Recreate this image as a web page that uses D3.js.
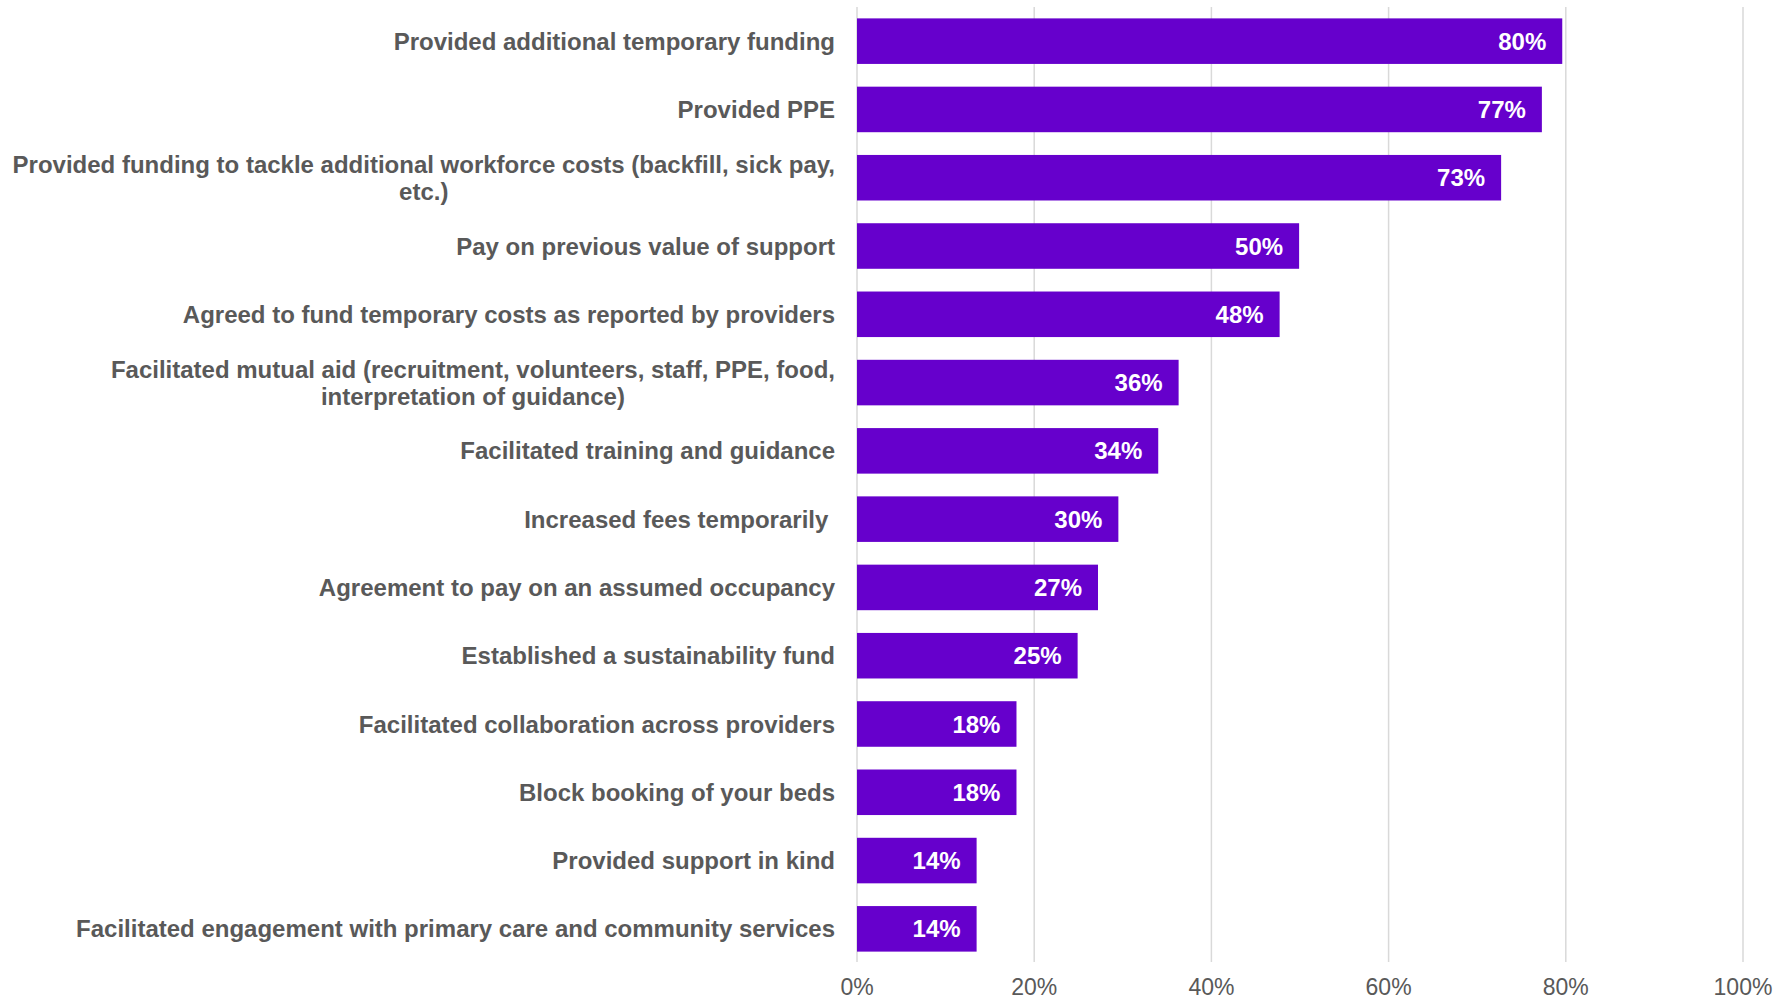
<!DOCTYPE html>
<html>
<head>
<meta charset="utf-8">
<script src="https://cdn.jsdelivr.net/npm/d3@7"></script>
<style>
  body { margin: 0; background: #fff; }
  svg { display: block; }
  text { font-family: Arial, "Liberation Sans", sans-serif; }
</style>
</head>
<body>
<div class="chart"></div>
<script>
// Data
const categories = [
    ['Provided additional temporary funding'],
    ['Provided PPE'],
    ['Provided funding to tackle additional workforce costs (backfill, sick pay,', 'etc.)'],
    ['Pay on previous value of support'],
    ['Agreed to fund temporary costs as reported by providers'],
    ['Facilitated mutual aid (recruitment, volunteers, staff, PPE, food,', 'interpretation of guidance)'],
    ['Facilitated training and guidance'],
    ['Increased fees temporarily '],
    ['Agreement to pay on an assumed occupancy'],
    ['Established a sustainability fund'],
    ['Facilitated collaboration across providers'],
    ['Block booking of your beds'],
    ['Provided support in kind'],
    ['Facilitated engagement with primary care and community services']
];
const values = [0.796, 0.773, 0.727, 0.499, 0.477, 0.363, 0.340, 0.295, 0.272, 0.249, 0.180, 0.180, 0.135, 0.135];
const valueLabels = ['80%', '77%', '73%', '50%', '48%', '36%', '34%', '30%', '27%', '25%', '18%', '18%', '14%', '14%'];
const tickValues = [0, 0.2, 0.4, 0.6, 0.8, 1.0];

function buildChart() {
    const width = 1791;
    const height = 1002;

    const x = d3.scaleLinear()
        .domain([0, 1])
        .range([857, 1743]);

    const y = d3.scaleBand()
        .domain(d3.range(categories.length))
        .range([7, 963])
        .paddingInner(0.333)
        .paddingOuter(0.1667);

    const svg = d3.select('.chart')
        .append('svg')
        .attr('width', width)
        .attr('height', height);

    // Gridlines
    svg.append('g')
        .selectAll('line')
        .data(tickValues)
        .join('line')
        .attr('x1', d => x(d))
        .attr('x2', d => x(d))
        .attr('y1', 7)
        .attr('y2', 962)
        .attr('stroke', '#d9d9d9')
        .attr('stroke-width', 1.5);

    // Bars
    svg.append('g')
        .selectAll('rect')
        .data(values)
        .join('rect')
        .attr('x', x(0))
        .attr('y', (d, i) => y(i))
        .attr('width', d => x(d) - x(0))
        .attr('height', y.bandwidth())
        .attr('fill', '#6600cc');

    // Value labels
    svg.append('g')
        .selectAll('text')
        .data(values)
        .join('text')
        .attr('x', d => x(d) - 16)
        .attr('y', (d, i) => y(i) + y.bandwidth() / 2)
        .attr('dy', '0.36em')
        .attr('text-anchor', 'end')
        .attr('fill', '#fff')
        .attr('font-weight', 'bold')
        .attr('font-size', 24)
        .text((d, i) => valueLabels[i]);

    // Category labels (multi-line blocks centred, block right-aligned)
    const labelRight = x(0) - 22;
    const lineGap = 27;
    const label = svg.append('g')
        .selectAll('g')
        .data(categories)
        .join('g');

    label.each(function (lines, i) {
        const g = d3.select(this);
        const cy = y(i) + y.bandwidth() / 2;
        const texts = g.selectAll('text')
            .data(lines)
            .join('text')
            .style('white-space', 'pre')
            .attr('font-weight', 'bold')
            .attr('font-size', 24)
            .attr('fill', '#595959')
            .attr('dy', '0.36em')
            .attr('y', (d, j) => cy + (j - (lines.length - 1) / 2) * lineGap)
            .text(d => d);
        if (lines.length === 1) {
            texts.attr('text-anchor', 'end').attr('x', labelRight);
        } else {
            const maxW = d3.max(texts.nodes(), n => n.getComputedTextLength());
            texts.attr('text-anchor', 'middle').attr('x', labelRight - maxW / 2);
        }
    });

    // Tick labels
    svg.append('g')
        .selectAll('text')
        .data(tickValues)
        .join('text')
        .attr('x', d => x(d))
        .attr('y', 995)
        .attr('text-anchor', 'middle')
        .attr('fill', '#595959')
        .attr('font-size', 23)
        .text(d => d3.format('.0%')(d));
}

buildChart();
</script>
</body>
</html>
